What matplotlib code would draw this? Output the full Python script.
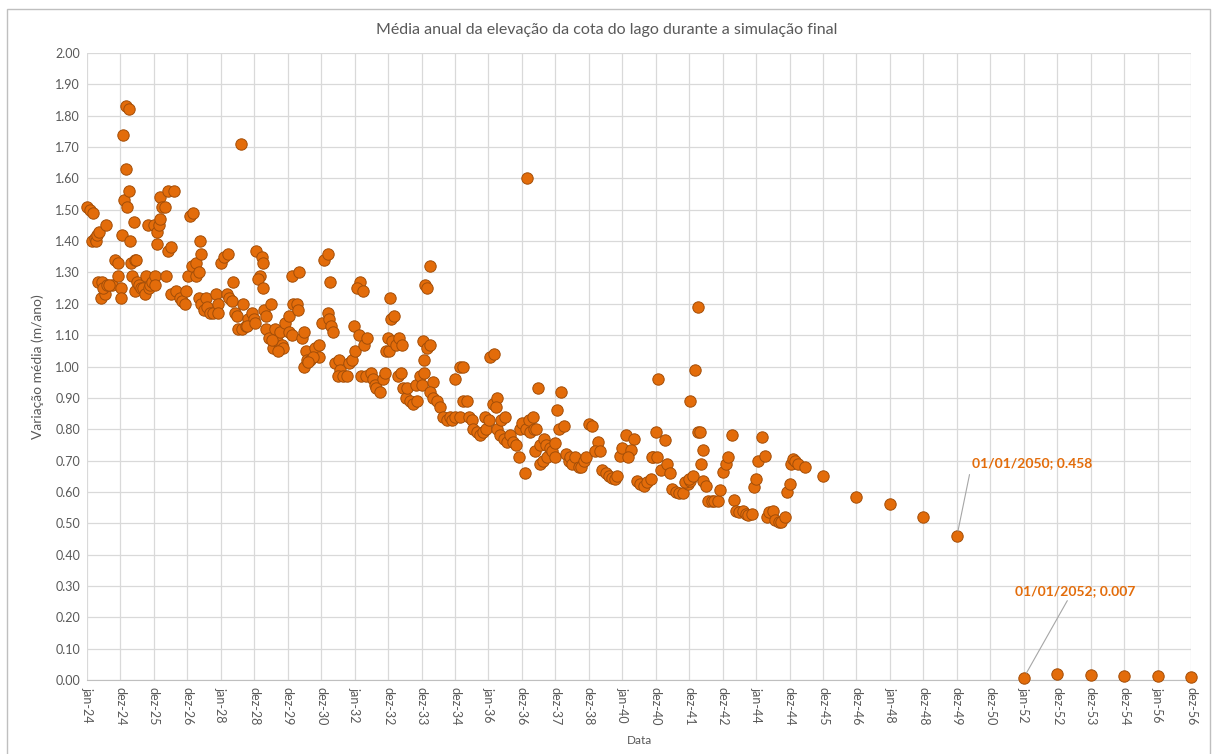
import datetime as dt
import matplotlib
matplotlib.use("Agg")
import matplotlib.pyplot as plt
import matplotlib.dates as mdates
from matplotlib.patches import Rectangle

plt.rcParams["font.family"] = ["Lato", "DejaVu Sans"]

# anos decorridos desde jan-24 (passo de 365.25 dias) e variação média (m/ano)
t_mensal = [
    0.00, 0.09, 0.19, 0.15, 0.24, 0.27, 0.30, 0.35, 0.34, 0.44, 0.42, 0.53, 0.49, 0.59, 0.57, 0.74, 0.65, 0.84, 0.93, 0.92, 1.02, 1.03,
    1.04, 1.08, 1.18, 1.27, 1.18, 1.10, 1.19, 1.27, 1.40, 1.30, 1.33, 1.42, 1.47, 1.34, 1.42, 1.49, 1.55, 1.60, 1.67, 1.74, 1.77, 1.82, 1.85, 1.89, 1.95,
    1.99, 2.02, 2.02, 2.10, 2.09, 2.15, 2.18, 2.18, 2.24, 2.34, 2.35, 2.42, 2.52, 2.43, 2.59, 2.52, 2.67, 2.77, 2.85, 2.94, 2.95,
    3.02, 3.09, 3.17, 3.15, 3.25, 3.27, 3.35, 3.40, 3.37, 3.34, 3.42, 3.49, 3.57, 3.59, 3.69, 3.77, 3.85, 3.92, 3.93,
    4.02, 4.10, 4.20, 4.17, 4.25, 4.32, 4.35, 4.41, 4.49, 4.52, 4.59, 4.67, 4.62, 4.75, 4.82, 4.92, 4.99, 4.78,
    5.03, 5.04, 5.24, 5.27, 5.17, 5.10, 5.27, 5.30, 5.35, 5.35, 5.49, 5.45, 5.57, 5.62, 5.69, 5.77, 5.82, 5.87, 5.93, 5.52, 5.71,
    6.05, 6.05, 6.13, 6.14, 6.17, 6.27, 6.35, 6.32, 6.42, 6.50, 6.54, 6.49, 6.57, 6.67, 6.82, 6.92, 6.92, 6.75, 6.60,
    7.01, 7.07, 7.19, 7.19, 7.24, 7.29, 7.35, 7.27, 7.42, 7.52, 7.57, 7.50, 7.65, 7.77, 7.84, 7.93, 7.97, 8.02,
    8.12, 8.17, 8.07, 8.25, 8.27, 8.37, 8.20, 8.35, 8.50, 8.55, 8.60, 8.63, 8.75, 8.85, 8.90, 8.95,
    9.02, 9.07, 9.10, 9.17, 9.00, 9.13, 9.25, 9.33, 9.43, 9.30, 9.40, 9.45, 9.53, 9.58, 9.65, 9.75, 9.85, 9.83, 9.95,
    10.00, 10.08, 10.08, 10.05, 10.17, 10.25, 10.10, 10.15, 10.25, 10.35, 10.25, 10.33, 10.47, 10.55, 10.65, 10.75, 10.85, 10.90,
    11.00, 11.15, 11.00, 11.15, 11.25, 11.25, 11.35, 11.43, 11.50, 11.55, 11.65, 11.75, 11.83, 11.93, 11.90,
    12.02, 12.05, 12.17, 12.15, 12.25, 12.23, 12.27, 12.35, 12.37, 12.50, 12.47, 12.55, 12.65, 12.73, 12.83, 12.92, 12.95,
    13.00, 13.10, 13.15, 13.13, 13.20, 13.25, 13.35, 13.43, 13.33, 13.48, 13.40, 13.53, 13.65, 13.73, 13.55, 13.62, 13.75, 13.85, 13.90,
    14.00, 14.00, 14.05, 14.17, 14.10, 14.25, 14.33, 14.40, 14.45, 14.50, 14.60, 14.70, 14.77, 14.85, 14.93,
    15.00, 15.10, 15.27, 15.17, 15.33, 15.40, 15.50, 15.60, 15.70, 15.77, 15.85, 15.93,
    16.10, 16.35, 16.00, 16.25, 16.17, 16.43, 16.53, 16.65, 16.75, 16.85, 16.93, 16.88,
    17.03, 17.00, 17.08, 17.27, 17.17, 17.35, 17.43, 17.50, 17.60, 17.70, 17.83, 17.95, 17.88,
    18.03, 18.00, 18.03, 18.18, 18.25, 18.10, 18.25, 18.33, 18.40, 18.35, 18.40, 18.50, 18.55, 18.67, 18.75, 18.85, 18.93,
    19.00, 19.10, 19.17, 19.27, 19.35, 19.40, 19.50, 19.60, 19.70, 19.77, 19.87, 19.93,
    20.00, 20.07, 20.17, 20.27, 20.33, 20.40, 20.50, 20.57, 20.67, 20.75, 20.85, 20.93,
    21.00, 21.05, 21.10, 21.17, 21.25, 21.45,
]
v_mensal = [
    1.51, 1.50, 1.49, 1.40, 1.41, 1.40, 1.42, 1.43, 1.27, 1.27, 1.22, 1.23, 1.25, 1.26, 1.45, 1.26, 1.26, 1.34, 1.33, 1.29, 1.25, 1.22,
    1.42, 1.74, 1.83, 1.82, 1.63, 1.53, 1.51, 1.56, 1.46, 1.40, 1.33, 1.34, 1.34, 1.29, 1.24, 1.27, 1.26, 1.25, 1.25, 1.23, 1.29, 1.45, 1.25, 1.26, 1.27,
    1.45, 1.29, 1.26, 1.43, 1.39, 1.45, 1.47, 1.54, 1.51, 1.51, 1.29, 1.37, 1.38, 1.56, 1.56, 1.23, 1.24, 1.22, 1.21, 1.20, 1.24,
    1.29, 1.48, 1.49, 1.32, 1.33, 1.29, 1.30, 1.36, 1.40, 1.22, 1.20, 1.18, 1.22, 1.19, 1.17, 1.17, 1.23, 1.20, 1.17,
    1.33, 1.35, 1.36, 1.23, 1.22, 1.21, 1.27, 1.17, 1.16, 1.12, 1.71, 1.20, 1.12, 1.13, 1.15, 1.17, 1.15, 1.13,
    1.14, 1.37, 1.35, 1.33, 1.29, 1.28, 1.25, 1.18, 1.16, 1.12, 1.20, 1.09, 1.06, 1.12, 1.08, 1.11, 1.07, 1.06, 1.14, 1.085, 1.05,
    1.16, 1.11, 1.10, 1.29, 1.20, 1.20, 1.30, 1.18, 1.09, 1.11, 1.05, 1.00, 1.02, 1.02, 1.06, 1.07, 1.03, 1.03, 1.015,
    1.14, 1.34, 1.36, 1.17, 1.15, 1.13, 1.11, 1.27, 1.01, 1.02, 0.99, 0.97, 0.97, 0.97, 1.01, 1.02, 1.13, 1.05,
    1.10, 1.27, 1.25, 1.24, 1.07, 1.09, 0.97, 0.97, 0.98, 0.96, 0.94, 0.93, 0.92, 0.96, 0.98, 1.05,
    1.05, 1.22, 1.15, 1.16, 1.09, 1.08, 1.07, 1.09, 1.07, 0.97, 0.98, 0.93, 0.90, 0.93, 0.89, 0.88, 0.89, 0.94, 0.97,
    0.94, 0.98, 1.02, 1.08, 1.06, 1.07, 1.26, 1.25, 1.32, 0.95, 0.92, 0.90, 0.89, 0.87, 0.84, 0.83, 0.84, 0.83,
    0.84, 0.84, 0.96, 1.00, 1.00, 0.89, 0.89, 0.84, 0.83, 0.80, 0.79, 0.78, 0.79, 0.80, 0.84,
    0.83, 1.03, 1.04, 0.88, 0.90, 0.87, 0.80, 0.78, 0.83, 0.84, 0.77, 0.76, 0.78, 0.76, 0.75, 0.71, 0.80,
    0.82, 0.66, 1.60, 0.80, 0.83, 0.79, 0.80, 0.80, 0.84, 0.93, 0.73, 0.75, 0.77, 0.75, 0.69, 0.70, 0.71, 0.74, 0.73,
    0.71, 0.755, 0.86, 0.92, 0.80, 0.81, 0.72, 0.70, 0.71, 0.69, 0.71, 0.68, 0.68, 0.70, 0.71,
    0.815, 0.81, 0.76, 0.73, 0.73, 0.67, 0.66, 0.65, 0.645, 0.64, 0.65, 0.715,
    0.78, 0.77, 0.74, 0.735, 0.71, 0.635, 0.625, 0.62, 0.63, 0.64, 0.71, 0.71,
    0.71, 0.79, 0.96, 0.765, 0.67, 0.69, 0.66, 0.61, 0.60, 0.595, 0.595, 0.625, 0.63,
    0.635, 0.64, 0.89, 0.99, 1.19, 0.65, 0.79, 0.79, 0.735, 0.69, 0.635, 0.62, 0.57, 0.57, 0.57, 0.57, 0.605,
    0.665, 0.69, 0.71, 0.78, 0.575, 0.54, 0.535, 0.54, 0.53, 0.525, 0.53, 0.615,
    0.64, 0.70, 0.775, 0.715, 0.52, 0.535, 0.54, 0.51, 0.505, 0.505, 0.52, 0.60,
    0.625, 0.69, 0.705, 0.70, 0.69, 0.68,
]

# pontos anuais (01/01 de cada ano)
anos_anuais = [2046, 2047, 2048, 2049, 2050, 2052, 2053, 2054, 2055, 2056, 2057]
v_anuais = [0.65, 0.585, 0.56, 0.52, 0.458, 0.007, 0.018, 0.016, 0.013, 0.012, 0.011]

meses_pt = ["jan", "fev", "mar", "abr", "mai", "jun", "jul", "ago", "set", "out", "nov", "dez"]

inicio = dt.datetime(2024, 1, 1)
x_mensal = [inicio + dt.timedelta(days=t * 365.25) for t in t_mensal]
x_anual = [dt.datetime(a, 1, 1) for a in anos_anuais]

laranja = "#E36C0A"
borda = "#A34E08"
cinza = "#595959"

fig = plt.figure(figsize=(12.13, 7.54), dpi=100)
ax = fig.add_axes([87 / 1213, 1 - 680 / 754, (1191 - 87) / 1213, (680 - 53) / 754])

ax.plot(x_mensal + x_anual, v_mensal + v_anuais, "o", ms=8.2, mfc=laranja,
        mec=borda, mew=0.7, ls="none", zorder=3, clip_on=False)

x0 = mdates.date2num(inicio)
ticks = [x0 + k * 365.25 for k in range(34)]
ax.set_xlim(ticks[0], ticks[-1])
ax.set_xticks(ticks)
labels = []
for tk in ticks:
    d = mdates.num2date(tk)
    labels.append(f"{meses_pt[d.month - 1]}-{d.year % 100:02d}")
ax.set_xticklabels(labels, rotation=270, fontsize=9, color=cinza)

ax.set_ylim(0, 2.0)
ax.set_yticks([i / 10 for i in range(21)])
ax.set_yticklabels([f"{i / 10:.2f}" for i in range(21)], fontsize=9, color=cinza)

ax.grid(True, color="#D9D9D9", lw=0.9)
ax.set_axisbelow(True)
for s in ["top", "right", "left"]:
    ax.spines[s].set_visible(False)
ax.spines["bottom"].set_color("#BFBFBF")
ax.tick_params(length=0, pad=5)

ax.set_ylabel("Variação média (m/ano)", fontsize=10, color=cinza, labelpad=8)
ax.set_xlabel("Data", fontsize=8.5, color=cinza, labelpad=7)

fig.text(0.5, 1 - 30 / 754, "Média anual da elevação da cota do lago durante a simulação final",
         ha="center", va="center", fontsize=11.5, color=cinza)

# rótulos de dados
ax.annotate("01/01/2050; 0.458", xy=(x_anual[4], v_anuais[4]),
            xytext=(x0 + 26.45 * 365.25, 0.692), ha="left", va="center",
            fontsize=10, fontweight="bold", color=laranja,
            arrowprops=dict(arrowstyle="-", color="#A6A6A6", lw=0.8, relpos=(0, 0.5),
                            shrinkA=2, shrinkB=4))
ax.annotate("01/01/2052; 0.007", xy=(x_anual[5], v_anuais[5]),
            xytext=(x0 + 29.55 * 365.25, 0.285), ha="center", va="center",
            fontsize=10, fontweight="bold", color=laranja,
            arrowprops=dict(arrowstyle="-", color="#A6A6A6", lw=0.8, relpos=(0.45, 0),
                            shrinkA=1, shrinkB=4))

# moldura do gráfico
fig.patches.append(Rectangle((7 / 1213, -0.01), 1203 / 1213, 1 - 9 / 754 + 0.01,
                             transform=fig.transFigure, fill=False, ec="#BFBFBF", lw=1))

fig.savefig("out.png", dpi=100)
